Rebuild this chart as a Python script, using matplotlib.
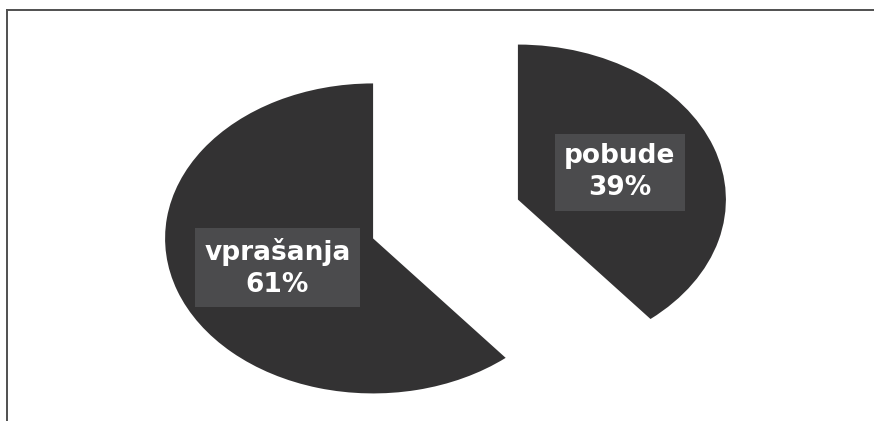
#!/usr/bin/env python3
"""Exploded, squashed two-slice pie: vprašanja vs pobude."""

import matplotlib
matplotlib.use("Agg")
import matplotlib.pyplot as plt
from matplotlib.lines import Line2D

# ── data ──────────────────────────────────────────────────────────
categories = ["pobude", "vprašanja"]
shares = [39, 61]

W, H = 874, 421
# pixel geometry of the drawing
cx, cy = 445.5, 219.0      # centre of the whole pie, px from top-left
rx, ry = 208.0, 155.0      # radius in px, horizontal / vertical

fig = plt.figure(figsize=(W / 100, H / 100), dpi=100)
ax = fig.add_axes([0, 0, 1, 1])

labels = [f"{c}\n{v}%" for c, v in zip(categories, shares)]
wedges, texts = ax.pie(
    shares,
    labels=labels,
    startangle=90,
    counterclock=False,
    explode=[0.37, 0.37],
    colors=["#333233", "#333233"],
    labeldistance=0.52,
    wedgeprops=dict(linewidth=0),
    textprops=dict(color="white", fontsize=19, fontweight="bold",
                   family="DejaVu Sans", ha="center", va="center",
                   linespacing=1.3,
                   bbox=dict(boxstyle="square,pad=0.35", facecolor="#4b4b4d",
                             edgecolor="none")),
)

# nudge the big label a touch right/down, as in the original
x, y = texts[1].get_position()
texts[1].set_position((x + 6 / rx, y - 2 / ry))

# stretch the pie into the flattened ellipse of the original
ax.set_aspect("auto")
ax.set_xlim(-cx / rx, (W - cx) / rx)
ax.set_ylim(-(H - cy) / ry, cy / ry)
ax.axis("off")

# thin frame (top and left only are visible in the original)
frame = dict(color="#505050", lw=1.4, transform=fig.transFigure)
fig.add_artist(Line2D([6.5 / W, 1], [1 - 10 / H, 1 - 10 / H], **frame))
fig.add_artist(Line2D([6.5 / W, 6.5 / W], [0, 1 - 10 / H], **frame))

fig.savefig("out.png", dpi=100, facecolor="white")
plt.close(fig)
